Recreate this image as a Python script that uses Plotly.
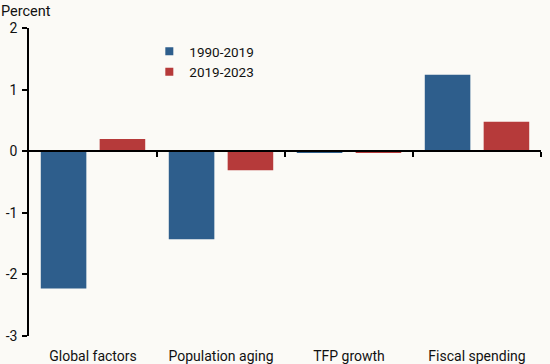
import plotly.graph_objects as go

categories = ["Global factors", "Population aging", "TFP growth", "Fiscal spending"]
series_1990_2019 = [-2.23, -1.43, -0.03, 1.24]
series_2019_2023 = [0.20, -0.31, -0.03, 0.48]
y_ticks = [2, 1, 0, -1, -2, -3]
y_tick_text = ["2", "1", "0", "-1", "-2", "-3"]
series_names = ["1990-2019", "2019-2023"]

BLUE = "#2E5E8C"
RED = "#B63A3A"
BG = "#FBFAF6"
FONT = "Roboto"

fig = go.Figure()
fig.add_trace(go.Bar(x=categories, y=series_1990_2019, name=series_names[0],
                     marker=dict(color=BLUE, line=dict(width=0)),
                     width=0.356, offset=-0.408, showlegend=False))
fig.add_trace(go.Bar(x=categories, y=series_2019_2023, name=series_names[1],
                     marker=dict(color=RED, line=dict(width=0)),
                     width=0.356, offset=0.052, showlegend=False))
for nm, col in zip(series_names, [BLUE, RED]):
    fig.add_trace(go.Scatter(x=[None], y=[None], mode="markers", name=nm,
                             marker=dict(symbol="square", size=8, color=col)))

fig.add_trace(go.Scatter(x=[0], y=[0], xaxis="x2", mode="markers",
                         marker=dict(opacity=0), showlegend=False, hoverinfo="skip"))

fig.update_layout(
    width=550, height=364,
    margin=dict(l=29, r=9, t=28, b=28),
    paper_bgcolor=BG, plot_bgcolor=BG,
    font=dict(family=FONT, size=14, color="#111"),
    barmode="overlay",
    showlegend=True,
    legend=dict(x=0.235, y=0.974, xanchor="left", yanchor="top",
                bgcolor="rgba(0,0,0,0)", font=dict(size=13.5),
                itemwidth=30, tracegroupgap=0),
    xaxis=dict(type="category", categoryarray=categories, range=[-0.5, 3.5],
               showline=False, ticks="", showgrid=False, zeroline=False,
               tickfont=dict(size=14), automargin=False, ticklabelstandoff=10),
    xaxis2=dict(overlaying="x", anchor="free", position=0.6, range=[-0.5, 3.5],
                showline=True, linecolor="black", linewidth=1.5,
                tickmode="array", tickvals=[0.5, 1.5, 2.5, 3.5],
                ticks="outside", ticklen=5, tickcolor="black", tickwidth=1.5,
                showticklabels=False, showgrid=False, zeroline=False,
                automargin=False),
    yaxis=dict(range=[-3, 2], tickvals=y_ticks, ticktext=y_tick_text,
               showgrid=False, zeroline=False,
               showline=True, linecolor="black", linewidth=1.5,
               ticks="outside", ticklen=5, tickcolor="black", tickwidth=1.5,
               tickfont=dict(size=14), automargin=False, ticklabelstandoff=2),
    annotations=[dict(text="Percent", x=0, y=1, xref="paper", yref="paper",
                      xanchor="left", yanchor="bottom", showarrow=False,
                      xshift=-30, yshift=6, font=dict(size=14.5))],
)

fig.write_html("out.html", config={"displayModeBar": False},
               post_script="document.body.style.margin='0';document.body.style.background='%s';" % BG)
